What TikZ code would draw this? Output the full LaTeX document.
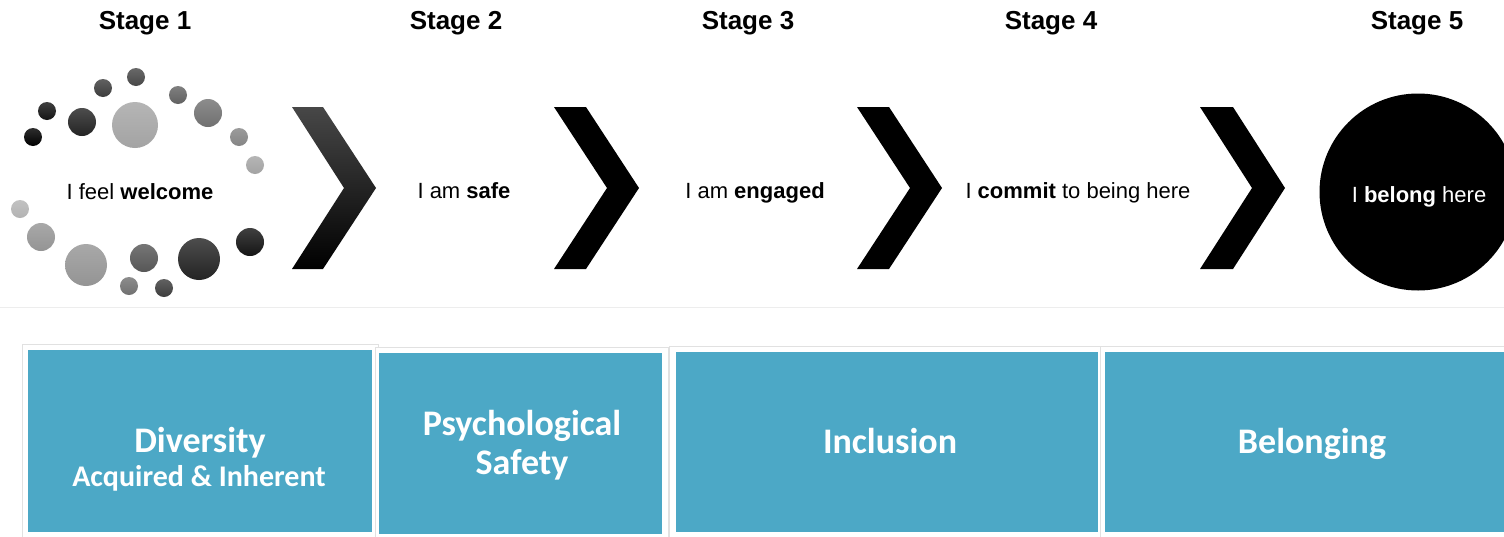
\documentclass[tikz,border=0pt]{standalone}
\usepackage{fontspec}
\setmainfont{Liberation Sans}
\newfontfamily\calibrifont{Carlito}
\definecolor{boxteal}{RGB}{76,168,198}
\definecolor{framegray}{RGB}{225,225,225}
\begin{document}
\begin{tikzpicture}[x=1pt,y=-1pt,
  stagelabel/.style={anchor=base,inner sep=0pt,font=\fontsize{26}{30}\selectfont\bfseries},
  statement/.style={anchor=base,inner sep=0pt,font=\fontsize{22}{26}\selectfont},
  boxtitle/.style={anchor=base,inner sep=0pt,text=white,font=\calibrifont\fontsize{36}{40}\selectfont\bfseries},
  boxsub/.style={anchor=base,inner sep=0pt,text=white,font=\calibrifont\fontsize{30}{34}\selectfont\bfseries},
  chevron/.style={fill=black},
  frame/.style={draw=framegray,line width=0.8pt,fill=white},
  panel/.style={fill=boxteal}]
\useasboundingbox (0,0) rectangle (1504,536);
\fill[white] (0,0) rectangle (1504,536);

% stage headings
\node[stagelabel] (s1) at (145,29) {Stage 1};
\node[stagelabel] (s2) at (456,29) {Stage 2};
\node[stagelabel] (s3) at (748,29) {Stage 3};
\node[stagelabel] (s4) at (1051,29) {Stage 4};
\node[stagelabel] (s5) at (1417,29) {Stage 5};

% ring of dots around the first statement (x, y, radius, grey level)
\foreach \cx/\cy/\r/\g in {
  33/137/9/100, 47/111/9/92, 82/122/14/86, 103/88/9/76, 136/77/9/72,
  135/125/23/36, 178/95/9/62, 208/113/14/56, 239/137/9/48, 255/165/9/36,
  20/209/9/30, 41/237/14/42, 86/265/21/42, 129/286/9/56, 144/258/14/66,
  164/288/9/76, 199/259/21/86, 250/242/14/92}{
  \pgfmathtruncatemacro\gtop{\g*0.82}
  \shade[top color=black!\gtop, bottom color=black!\g]
    (\cx,\cy) circle[radius=\r];
}

% statements
\node[statement] (t1) at (140,199) {I feel \textbf{welcome}};
\node[statement] (t2) at (464,198) {I am \textbf{safe}};
\node[statement] (t3) at (755,198) {I am \textbf{engaged}};
\node[statement] (t4) at (1078,198) {I \textbf{commit} to being here};

% chevrons between the stages
\shade[top color=black!72, middle color=black, bottom color=black]
  (292,107) -- (323,107) -- (376,188) -- (323,269) -- (292,269) -- (344,188) -- cycle;
\fill[chevron] (554,107) -- (586,107) -- (639,188) -- (586,269) -- (554,269) -- (607,188) -- cycle;
\fill[chevron] (857,107) -- (889,107) -- (942,188) -- (889,269) -- (857,269) -- (910,188) -- cycle;
\fill[chevron] (1200,107) -- (1233,107) -- (1285,188) -- (1233,269) -- (1200,269) -- (1252,188) -- cycle;

% final stage disc
\fill[black] (1418,192) circle[radius=98.5];
\node[statement,text=white] (t5) at (1419,202) {I \textbf{belong} here};

% separator
\draw[black!7,line width=0.8pt] (0,307) -- (1504,307);

% framed panels
\draw[frame] (22,344) rectangle (378,545);
\fill[panel] (28,350) rectangle (372,532);
\draw[frame] (375,347) rectangle (668,545);
\fill[panel] (379,353) rectangle (662,534);
\draw[frame] (669,346) rectangle (1100,545);
\fill[panel] (676,352) rectangle (1098,532);
\draw[frame] (1100,346) rectangle (1515,545);
\fill[panel] (1105,352) rectangle (1515,532);

\node[boxtitle] (b1) at (200,452) {Diversity};
\node[boxsub] (b1s) at (199,486) {Acquired \& Inherent};
\node[boxtitle] (b2) at (522,435) {Psychological};
\node[boxtitle] (b2s) at (522,474) {Safety};
\node[boxtitle] (b3) at (890,453) {Inclusion};
\node[boxtitle] (b4) at (1312,453) {Belonging};
\end{tikzpicture}
\end{document}
